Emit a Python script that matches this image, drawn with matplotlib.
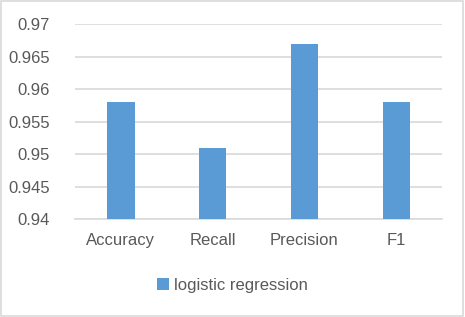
import matplotlib
matplotlib.use('Agg')
import matplotlib.pyplot as plt
from matplotlib.patches import Rectangle

plt.rcParams['font.family'] = ['Liberation Sans', 'DejaVu Sans']

metrics = ['Accuracy', 'Recall', 'Precision', 'F1']
scores = [0.958, 0.951, 0.967, 0.958]
y_ticks = [0.94, 0.945, 0.95, 0.955, 0.96, 0.965, 0.97]
series_name = 'logistic regression'

text_col = '#595959'
grid_col = '#D9D9D9'
bar_col = '#5B9BD5'

fig = plt.figure(figsize=(4.65, 3.17), dpi=100)
ax = fig.add_axes([0.161, 0.309, 0.79, 0.615])

x = range(len(metrics))
ax.bar(x, scores, width=0.3, color=bar_col, label=series_name, zorder=3)

ax.set_ylim(0.94, 0.97)
ax.set_xlim(-0.5, len(metrics) - 0.5)
ax.set_yticks(y_ticks)
ax.set_yticklabels([f'{v:g}' for v in y_ticks])
ax.set_xticks(list(x))
ax.set_xticklabels(metrics)
ax.tick_params(axis='both', length=0, colors=text_col, labelsize=12)
ax.tick_params(axis='y', pad=18)
ax.tick_params(axis='x', pad=10)
ax.grid(axis='y', color=grid_col, lw=1.2, zorder=0)
for s in ['top', 'right', 'left']:
    ax.spines[s].set_visible(False)
ax.spines['bottom'].set_color(grid_col)
ax.spines['bottom'].set_linewidth(1.2)

leg = fig.legend(loc='center', bbox_to_anchor=(0.5, 0.1), frameon=False,
                 fontsize=12, handlelength=0.7, handleheight=0.7, handletextpad=0.3)
for t in leg.get_texts():
    t.set_color(text_col)

# light chart border
fig.patches.append(Rectangle((0.002, 0.003), 0.994, 0.994, transform=fig.transFigure,
                             fill=False, edgecolor='#D9D9D9', lw=1.2))

fig.savefig('out.png', dpi=100)
